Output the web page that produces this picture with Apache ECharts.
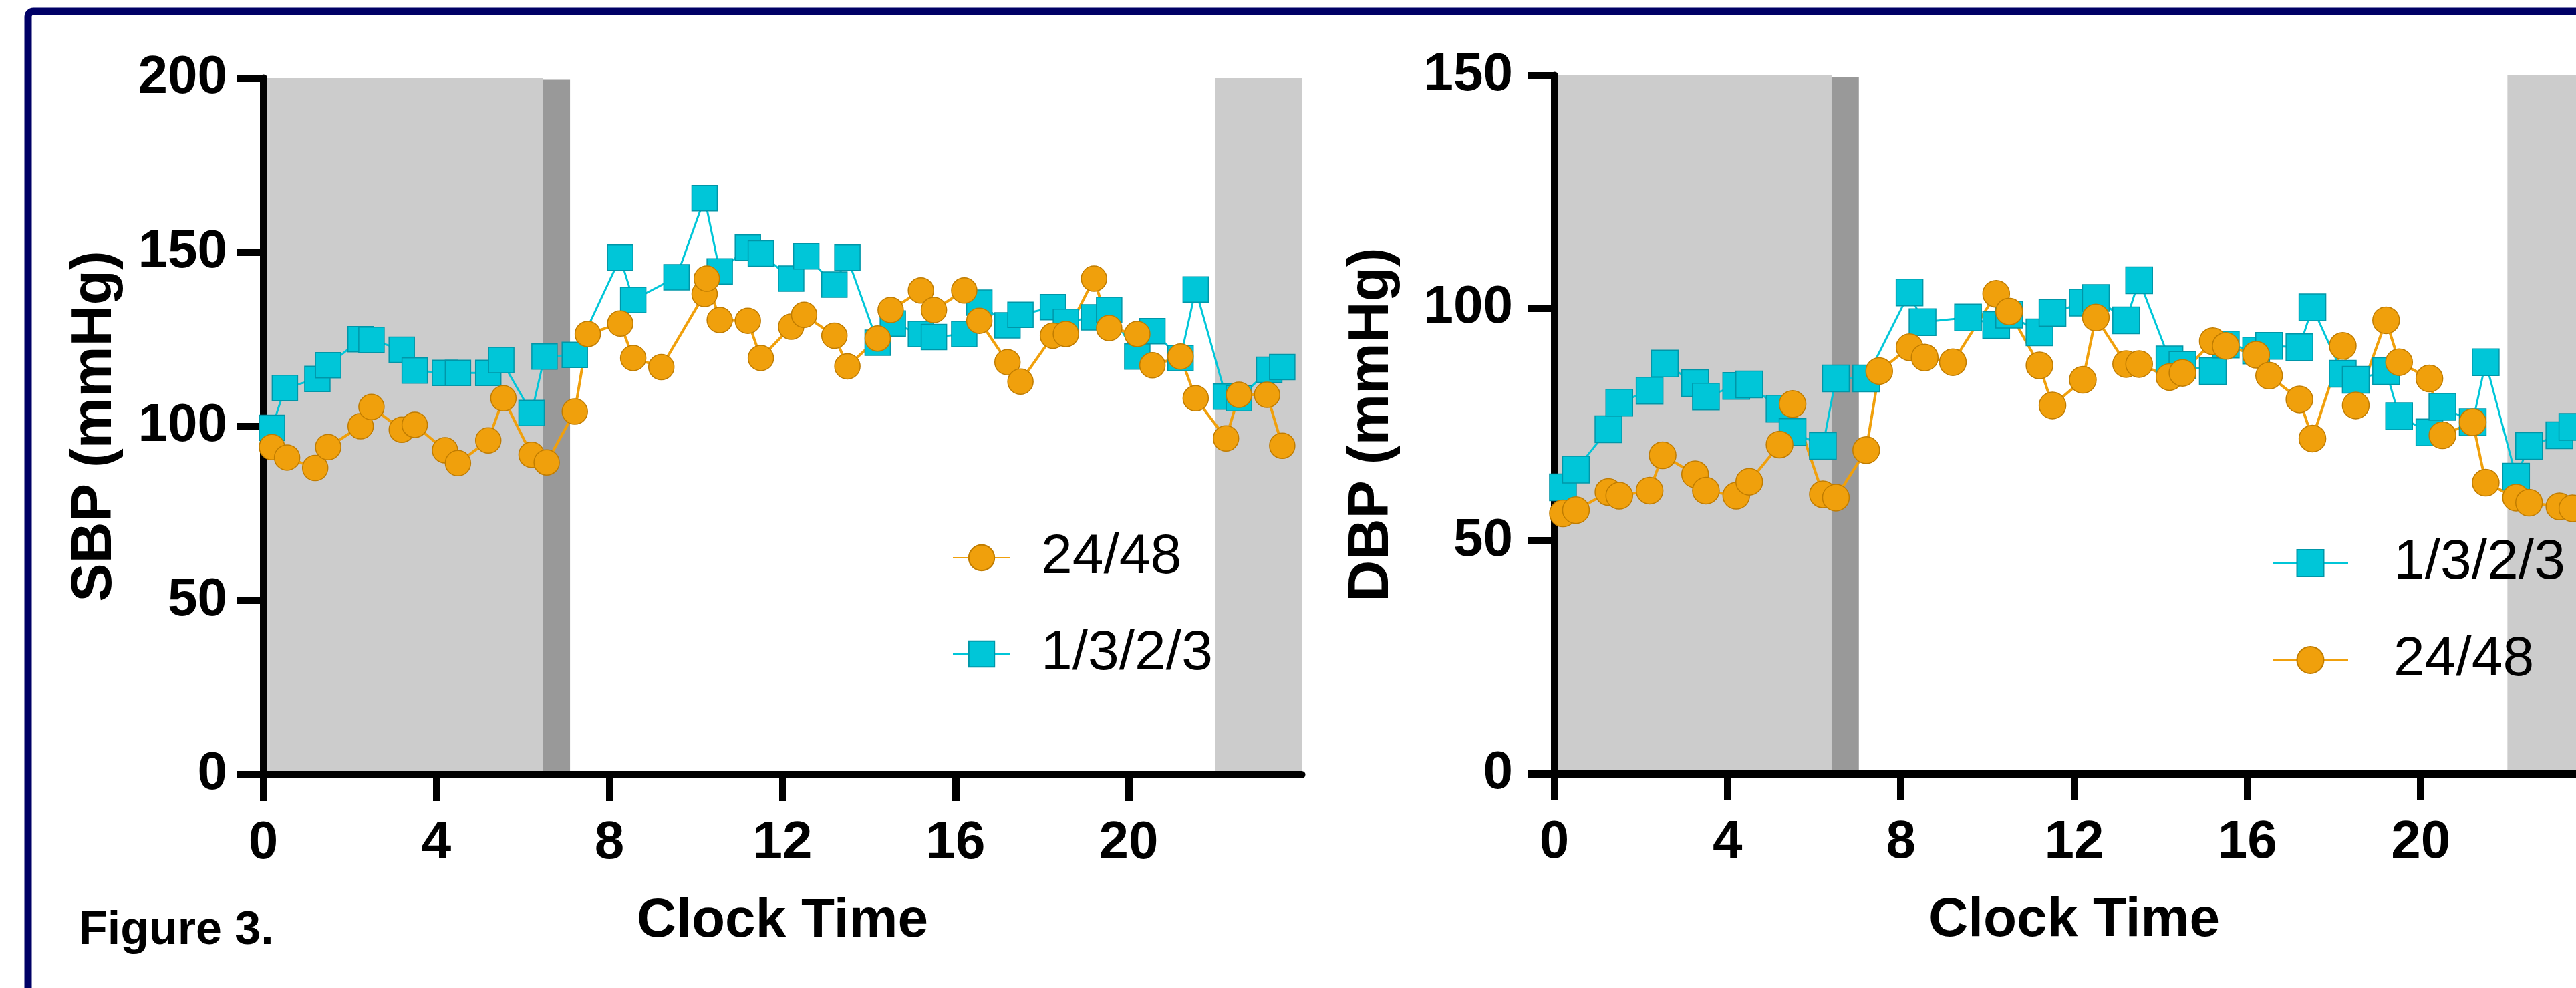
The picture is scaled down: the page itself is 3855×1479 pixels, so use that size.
<!DOCTYPE html>
<html>
<head>
<meta charset="utf-8">
<title>Figure 3</title>
<script src="https://cdn.jsdelivr.net/npm/echarts@6/dist/echarts.min.js"></script>
<style>
  html, body { margin: 0; padding: 0; background: #fff; }
  #chart { width: 3855px; height: 1479px; }
</style>
</head>
<body>
<div id="chart"></div>
<script>
// SBP panel, 24/48 group (orange circles)
const sbpTimes2448 = [0.2, 0.55, 1.2, 1.5, 2.25, 2.5, 3.2, 3.5, 4.2, 4.5, 5.2, 5.55, 6.2, 6.55, 7.2, 7.5,
  8.25, 8.55, 9.2, 10.2, 10.25, 10.55, 11.2, 11.5, 12.2, 12.5, 13.2, 13.5, 14.2, 14.5, 15.2, 15.5,
  16.2, 16.55, 17.2, 17.5, 18.25, 18.55, 19.2, 19.55, 20.2, 20.55, 21.2, 21.55, 22.25, 22.55, 23.2, 23.55];
const sbp2448 = [94, 91, 88, 94, 100, 105.5, 99, 100.4, 93.1, 89.4, 95.9, 108, 91.8, 89.6, 104.2, 126.5,
  129.5, 119.6, 117, 138, 142.4, 130.5, 130.3, 119.6, 128.6, 132, 126, 117.2, 125.2, 133.4, 139, 133.4,
  139, 130.3, 118.4, 112.8, 126, 126.5, 142.4, 128.2, 126.5, 117.5, 120, 108, 96.5, 109, 109, 94.4];

// SBP panel, 1/3/2/3 group (cyan squares)
const sbpTimes1323 = [0.2, 0.5, 1.25, 1.5, 2.25, 2.5, 3.2, 3.5, 4.2, 4.5, 5.2, 5.5, 6.2, 6.5, 7.2,
  8.25, 8.55, 9.55, 10.2, 10.55, 11.2, 11.5, 12.2, 12.55, 13.2, 13.5, 14.2, 14.55, 15.2, 15.5,
  16.2, 16.55, 17.2, 17.5, 18.25, 18.55, 19.2, 19.55, 20.2, 20.55, 21.2, 21.55, 22.25, 22.55, 23.25, 23.55];
const sbp1323 = [99.5, 111, 113.6, 117.5, 125, 124.8, 122, 116, 115.3, 115.3, 115.3, 119, 103.8, 120, 120.5,
  148.4, 136.3, 142.8, 165.5, 144.5, 151.3, 149.6, 142.4, 148.8, 140.7, 148.4, 124, 129.5, 126.5, 125.6,
  126.5, 135.5, 129, 132, 134.2, 130, 131.3, 133.4, 120, 127.3, 119.6, 139.3, 108.5, 108, 116.2, 117];

// DBP panel, 1/3/2/3 group
const dbpTimes1323 = [0.2, 0.5, 1.25, 1.5, 2.2, 2.55, 3.25, 3.5, 4.2, 4.5, 5.2, 5.5, 6.2, 6.5, 7.2,
  8.2, 8.5, 9.55, 10.2, 10.5, 11.2, 11.5, 12.2, 12.5, 13.2, 13.5, 14.2, 14.5, 15.2, 15.5,
  16.2, 16.5, 17.2, 17.5, 18.2, 18.5, 19.2, 19.5, 20.2, 20.5, 21.2, 21.5, 22.2, 22.5, 23.2, 23.5];
const dbp1323 = [61.5, 65.3, 74, 79.7, 82.3, 88.1, 83.9, 81, 83.3, 83.6, 78.4, 73.4, 70.4, 84.9, 84.9,
  103.4, 97, 98, 96.4, 98.6, 94.8, 99, 101.2, 102.2, 97.4, 106, 89, 87.8, 86.5, 92.2,
  90.9, 91.9, 91.6, 100.2, 85.9, 84.6, 86.5, 76.8, 73.3, 78.8, 75.5, 88.4, 63.8, 70.4, 72.7, 74.5];

// DBP panel, 24/48 group
const dbpTimes2448 = [0.2, 0.5, 1.25, 1.5, 2.2, 2.5, 3.25, 3.5, 4.2, 4.5, 5.2, 5.5, 6.2, 6.5, 7.2, 7.5,
  8.2, 8.55, 9.2, 10.2, 10.5, 11.2, 11.5, 12.2, 12.5, 13.2, 13.5, 14.2, 14.5, 15.2, 15.5,
  16.2, 16.5, 17.2, 17.5, 18.2, 18.5, 19.2, 19.5, 20.2, 20.5, 21.2, 21.5, 22.2, 22.5, 23.2, 23.5];
const dbp2448 = [55.9, 56.6, 60.5, 59.7, 60.8, 68.4, 64.3, 60.8, 59.7, 62.7, 70.7, 79.4, 60, 59.3, 69.5, 86.5,
  91.6, 89.4, 88.4, 103.1, 99.3, 87.7, 79.1, 84.6, 98, 88, 88, 85.2, 86.1, 92.9, 91.9,
  90, 85.5, 80.4, 72, 91.9, 79.1, 97.4, 88.4, 84.9, 72.7, 75.5, 62.5, 59.3, 58.2, 57.4, 57];

// shaded night periods (hours)
const sbpNight = [[0, 6.47], [22, 24]];
const sbpWake = [[6.47, 7.09]];
const dbpNight = [[0, 6.4], [22, 24]];
const dbpWake = [[6.4, 7.03]];

const xTicks = [0, 4, 8, 12, 16, 20];

const FONT = '"Liberation Sans", Arial, sans-serif';
const ORANGE = '#F0A00C';
const CYAN = '#00C6D8';

function pairs(times, vals) {
  return times.map((t, i) => [t, vals[i]]);
}

function bands(list, top, color) {
  return list.map(b => [
    { xAxis: b[0], yAxis: 0, itemStyle: { color: color } },
    { xAxis: b[1], yAxis: top }
  ]);
}

function xAxisOf(gi) {
  return {
    gridIndex: gi, type: 'value', min: 0, max: 24, interval: 4, z: 1,
    axisLine: { lineStyle: { color: '#000', width: 11 } },
    axisTick: { length: 40, customValues: xTicks, lineStyle: { color: '#000', width: 11 } },
    axisLabel: { customValues: xTicks, margin: 64, fontSize: 80, fontWeight: 'bold', color: '#000', fontFamily: FONT },
    splitLine: { show: false },
    name: 'Clock Time', nameLocation: 'middle', nameGap: 179,
    nameTextStyle: { fontSize: 82, fontWeight: 'bold', color: '#000', fontFamily: FONT }
  };
}

function yAxisOf(gi, max, name, margin, gap) {
  return {
    gridIndex: gi, type: 'value', min: 0, max: max, interval: 50, z: 1,
    axisLine: { show: true, lineStyle: { color: '#000', width: 11 } },
    axisTick: { show: true, length: 40, lineStyle: { color: '#000', width: 11 } },
    axisLabel: { margin: margin, fontSize: 80, fontWeight: 'bold', color: '#000', fontFamily: FONT },
    splitLine: { show: false },
    name: name, nameLocation: 'middle', nameGap: gap,
    nameTextStyle: { fontSize: 86, fontWeight: 'bold', color: '#000', fontFamily: FONT }
  };
}

function dataSeries(name, gi, data, symbol, size, color, border, width) {
  return {
    name: name, type: 'line', xAxisIndex: gi, yAxisIndex: gi, z: 2,
    data: data, symbol: symbol, symbolSize: size, showSymbol: true,
    lineStyle: { color: color, width: width },
    itemStyle: { color: color, borderColor: border, borderWidth: 1.5 },
    emphasis: { disabled: true }
  };
}

function bandSeries(gi, night, wake, top, wakeTop) {
  return {
    type: 'line', xAxisIndex: gi, yAxisIndex: gi, z: 0, data: [], silent: true,
    markArea: {
      silent: true,
      data: bands(night, top, '#CCCCCC').concat(bands(wake, wakeTop, '#999999'))
    }
  };
}

const legendText = { fontSize: 84, color: '#000', fontFamily: FONT };

const option = {
  animation: false,
  backgroundColor: '#fff',
  grid: [
    { left: 394, top: 117, width: 1554, height: 1042, outerBoundsMode: 'none' },
    // the right panel runs past the picture's right edge
    { left: 2326, top: 113, width: 1556, height: 1045, outerBoundsMode: 'none' }
  ],
  xAxis: [xAxisOf(0), xAxisOf(1)],
  yAxis: [
    yAxisOf(0, 200, 'SBP (mmHg)', 54, 209),
    yAxisOf(1, 150, 'DBP (mmHg)', 62, 230)
  ],
  legend: [
    {
      orient: 'vertical', left: 1425, top: 793, padding: 0,
      itemWidth: 86, itemHeight: 48, itemGap: 60, selectedMode: false,
      data: ['24/48', '1/3/2/3'],
      textStyle: Object.assign({ padding: [0, 0, 0, 41] }, legendText)
    },
    {
      orient: 'vertical', left: 3400, top: 801, padding: 0,
      itemWidth: 113, itemHeight: 50, itemGap: 61, selectedMode: false,
      data: ['1/3/2/3', '24/48'],
      textStyle: Object.assign({ padding: [0, 0, 0, 63] }, legendText)
    }
  ],
  series: [
    bandSeries(0, sbpNight, sbpWake, 200, 199.5),
    bandSeries(1, dbpNight, dbpWake, 150, 149.6),
    dataSeries('1/3/2/3', 0, pairs(sbpTimes1323, sbp1323), 'rect', 38, CYAN, '#0096A8', 3),
    dataSeries('24/48', 0, pairs(sbpTimes2448, sbp2448), 'circle', 38, ORANGE, '#C07C00', 4),
    dataSeries('1/3/2/3', 1, pairs(dbpTimes1323, dbp1323), 'rect', 40, CYAN, '#0096A8', 3),
    dataSeries('24/48', 1, pairs(dbpTimes2448, dbp2448), 'circle', 40, ORANGE, '#C07C00', 4)
  ],
  graphic: [
    {
      type: 'rect', z: 100, silent: true,
      shape: { x: 42, y: 17, width: 4000, height: 2000, r: 8 },
      style: { fill: 'none', stroke: '#000066', lineWidth: 11 }
    },
    {
      type: 'text', left: 118, top: 1359, z: 100,
      style: { text: 'Figure 3.', font: 'bold 70px ' + FONT, fill: '#000' }
    }
  ]
};

const myChart = echarts.init(document.getElementById('chart'));
myChart.setOption(option);
window.addEventListener('resize', function () {
  myChart.resize();
});
</script>
</body>
</html>
